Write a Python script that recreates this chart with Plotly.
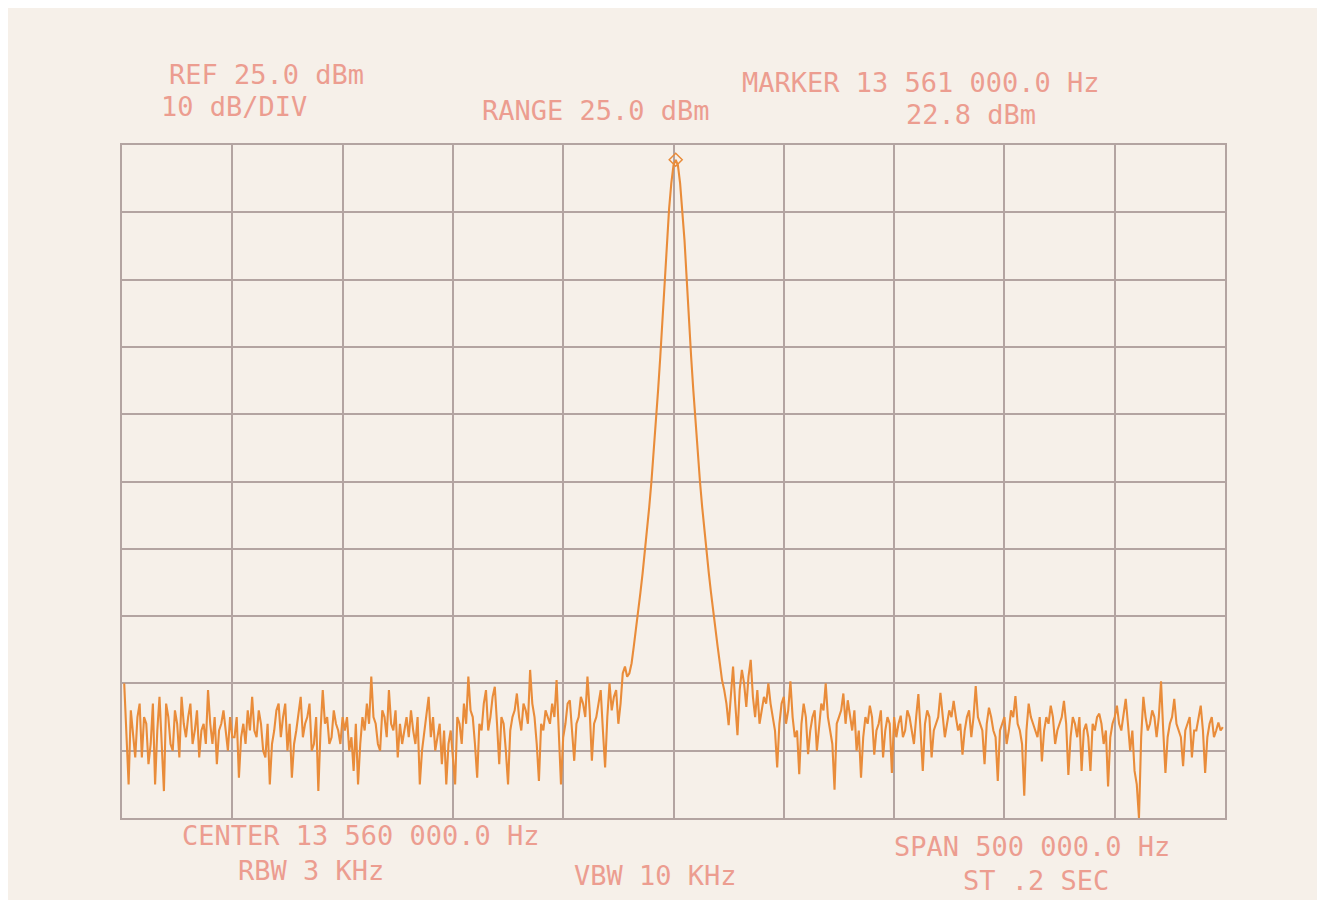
"""
Spectrum analyzer plot: 13.56 MHz carrier, 500 kHz span
"""

import numpy as np
import plotly.graph_objects as go

# sweep settings
FREQ_START_MHZ = 13.311
FREQ_STEP_MHZ = 0.001
AXIS_START_MHZ = 13.310
AXIS_STOP_MHZ = 13.810
REF_DBM = 25.0
DB_PER_DIV = 10.0

# trace values (dBm), left of the carrier
NOISE_LEFT_DBM = [
    -55, -63, -70, -59, -62, -66, -60, -58, -66, -60, -61, -67, -64, -58, -70, -62, -57, -65, -71, -58,
    -60, -64, -65, -59, -61, -66, -57, -61, -63, -60, -58, -64, -62, -59, -66, -62, -61, -64, -56, -61,
    -64, -60, -67, -62, -61, -59, -62, -65, -60, -63, -63, -60, -69, -63, -61, -64, -59, -62, -57, -62,
    -63, -59, -61, -65, -66, -61, -70, -64, -62, -59, -58, -63, -60, -58, -65, -61, -69, -64, -62, -59,
    -57, -63, -61, -60, -58, -65, -64, -60, -71, -62, -56, -61, -60, -64, -63, -59, -61, -62, -64, -60,
    -62, -60, -65, -63, -68, -61, -70, -64, -60, -62, -58, -61, -54, -60, -61, -64, -65, -59, -60, -63,
    -56, -61, -62, -59, -66, -61, -64, -62, -60, -63, -59, -62, -64, -60, -70, -65, -62, -60, -57, -63,
    -60, -65, -63, -61, -67, -62, -70, -64, -62, -66, -70, -60, -61, -64, -58, -61, -54, -59, -60, -64,
    -69, -61, -62, -58, -56, -62, -60, -57, -55.5, -61, -67, -60, -61, -65, -70, -62, -60, -59, -56.5, -60,
    -62, -58, -59, -61, -53, -58, -60, -64, -69.5, -61, -62, -59, -60, -61, -58, -60, -54.5, -62, -70, -63,
    -61, -58, -57.5, -62, -66.5, -61, -60, -57, -58, -60, -54, -59, -66.5, -61, -60, -58, -56, -62, -67.5, -60,
    -55, -59, -57, -56, -61, -58, -53.5, -52.5,
]

# the carrier itself, 22 kHz either side of the marker
PEAK_DBM = [
    -54, -53.5, -52, -49.5, -47, -44.4, -41.5, -38.6, -35.5, -32.3, -28.8,
    -25, -20.9, -16.3, -11.5, -6.5, -1.2, 5, 10.8, 15.5, 19.3, 22,
    22.8,
    22, 19.3, 15.5, 10.8, 5, -1.2, -6.5, -11.5, -16.3, -20.9, -25,
    -28.8, -32.3, -35.5, -38.6, -41.5, -44.4, -47, -49.5, -52, -54.5, -56,
]

# right of the carrier
NOISE_RIGHT_DBM = [
    -58, -61.2, -57, -52.5, -58, -62.7, -56, -53, -55, -58.5, -54, -51.5, -57, -60, -56, -61, -59, -57, -58, -55,
    -58, -60, -62, -67.5, -61, -58, -57, -61, -59, -54.7, -60, -63, -62, -68.5, -61, -58, -60, -65.5, -62, -60,
    -59, -65, -62, -58, -59, -55, -60, -62, -64, -70.8, -61, -60, -59, -56.5, -61, -57.5, -60, -62, -59, -65,
    -62, -69, -63, -60, -61, -58.3, -60, -65.6, -62, -61, -59, -66, -62, -60, -61, -68.3, -60, -63, -61, -59.8,
    -63, -62, -59, -60, -62, -64, -60, -56.6, -62, -68, -61, -59, -60, -66, -62, -61, -60, -56.4, -60, -63,
    -61, -59, -60, -57.6, -60, -62, -61, -65.6, -62, -60, -59, -63, -60, -55.4, -60, -61, -62, -67, -61, -58.6,
    -60, -62, -63, -69.5, -62, -61, -60, -64, -62, -59, -60, -56.9, -61, -62, -64, -71.7, -62, -58, -60, -61,
    -62, -63, -60, -66.6, -62, -60, -61, -58.3, -60, -64, -62, -61, -60, -57.6, -61, -68.6, -63, -60, -61, -63,
    -60, -68, -62, -61, -63, -68, -61, -62, -60, -59.5, -61, -64, -62, -70.3, -63, -61, -60, -58.3, -61, -62,
    -60, -57.3, -61, -65, -62, -68, -70, -75, -63, -57, -60, -62, -61, -59, -60, -63, -60, -54.7, -62, -68.3,
    -63, -61, -60, -57.3, -61, -62, -63, -67.3, -62, -61, -60, -66, -62, -62, -60, -58.3, -62, -68.3, -63, -61,
    -60, -63, -62, -60.8, -62, -61.5,
]

MARKER_FREQ_MHZ = 13.561
MARKER_DBM = 22.8

# header / footer text of the analyzer printout
TOP_LABELS = ["REF 25.0 dBm", "10 dB/DIV", "RANGE 25.0 dBm",
              "MARKER 13 561 000.0 Hz", "22.8 dBm"]
BOTTOM_LABELS = ["CENTER 13 560 000.0 Hz", "RBW 3 KHz", "VBW 10 KHz",
                 "SPAN 500 000.0 Hz", "ST .2 SEC"]

PAPER = "#f6f0e9"
GRID = "#b3a4a1"
TRACE = "#e98c3a"
TEXT = "#ec9d90"

# the page puts the figure 8 px in from the window corner
PAGE_OFFSET = 8
W, H = 1310, 892
M_L, M_R, M_T, M_B = 114, 93, 137, 82


def px_to_paper(px, py):
    """Convert window pixel position into paper coords of the plot area"""
    pw = W - M_L - M_R
    ph = H - M_T - M_B
    fx = px - PAGE_OFFSET
    fy = py - PAGE_OFFSET
    return (fx - M_L) / pw, (H - M_B - fy) / ph


trace_dbm = NOISE_LEFT_DBM + PEAK_DBM + NOISE_RIGHT_DBM
freq_mhz = FREQ_START_MHZ + FREQ_STEP_MHZ * np.arange(len(trace_dbm))

fig = go.Figure()

fig.add_trace(go.Scatter(
    x=freq_mhz,
    y=trace_dbm,
    mode='lines',
    line=dict(color=TRACE, width=2.1),
    hoverinfo='skip',
    showlegend=False
))

fig.add_trace(go.Scatter(
    x=[MARKER_FREQ_MHZ],
    y=[MARKER_DBM],
    mode='markers',
    marker=dict(symbol='diamond-open', size=10, color=TRACE,
                line=dict(color=TRACE, width=1.5)),
    showlegend=False
))

# label centres in window pixels
label_pos = {
    "REF 25.0 dBm": (266, 75),
    "10 dB/DIV": (234, 107),
    "RANGE 25.0 dBm": (596, 111),
    "MARKER 13 561 000.0 Hz": (921, 82),
    "22.8 dBm": (971, 115),
    "CENTER 13 560 000.0 Hz": (361, 836),
    "RBW 3 KHz": (311, 870),
    "VBW 10 KHz": (655, 875),
    "SPAN 500 000.0 Hz": (1032, 846),
    "ST .2 SEC": (1036, 880),
}

annotations = []
for label in TOP_LABELS + BOTTOM_LABELS:
    ax, ay = px_to_paper(*label_pos[label])
    annotations.append(dict(
        x=ax, y=ay, xref='paper', yref='paper',
        text=label, showarrow=False,
        xanchor='center', yanchor='middle',
        font=dict(family='DejaVu Sans Mono', size=27, color=TEXT)
    ))

axis_style = dict(
    showgrid=True,
    gridcolor=GRID,
    gridwidth=1.5,
    showline=True,
    linecolor=GRID,
    linewidth=1.5,
    mirror=True,
    zeroline=False,
    showticklabels=False,
    ticks='',
    fixedrange=True
)

fig.update_xaxes(range=[AXIS_START_MHZ, AXIS_STOP_MHZ],
                 tick0=AXIS_START_MHZ, dtick=0.05, **axis_style)
fig.update_yaxes(range=[REF_DBM - 10 * DB_PER_DIV, REF_DBM],
                 tick0=REF_DBM, dtick=DB_PER_DIV, **axis_style)

fig.update_layout(
    width=W,
    height=H,
    margin=dict(l=M_L, r=M_R, t=M_T, b=M_B),
    paper_bgcolor=PAPER,
    plot_bgcolor=PAPER,
    annotations=annotations,
    showlegend=False
)

fig.write_html("out.html")
